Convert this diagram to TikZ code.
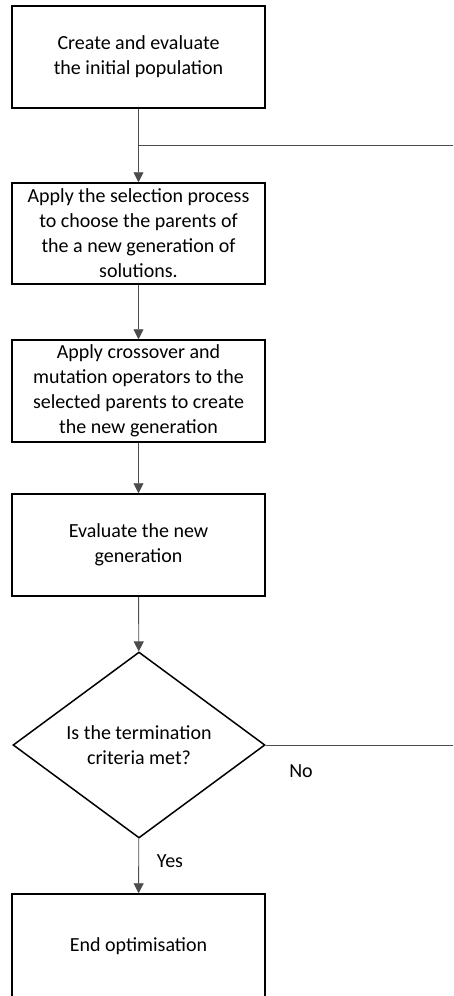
\documentclass[tikz,border=0pt]{standalone}
\usepackage{fontspec}
\setmainfont{Carlito}
\usetikzlibrary{arrows.meta,shapes.geometric}

\begin{document}
\begin{tikzpicture}[x=1pt, y=-1pt, font=\fontsize{20}{25}\selectfont,
  stepbox/.style={draw, line width=1.5pt, minimum width=253pt, minimum height=102pt,
    inner sep=0pt, align=center},
  decision/.style={draw, diamond, line width=1.5pt, aspect=1.355, inner sep=0pt,
    minimum width=252pt, minimum height=186pt, align=center},
  flow/.style={line width=0.9pt, draw=black!70},
  arrow/.style={flow, -{Triangle[length=10pt,width=10pt]}}]
\useasboundingbox (0,0) rectangle (453,996);
% process boxes
\node[stepbox] (init) at (138.5,57) {Create and evaluate\\the initial population};
\node[stepbox, minimum height=101pt] (select) at (138.5,233.5) {Apply the selection process\\to choose the parents of\\the a new generation of\\solutions.};
\node[stepbox] (vary) at (138.5,391) {Apply crossover and\\mutation operators to the\\selected parents to create\\the new generation};
\node[stepbox] (eval) at (138.5,545) {Evaluate the new\\generation};
\node[decision] (stop) at (139,745) {Is the termination\\criteria met?};
\node[stepbox, minimum height=104pt] (end) at (138.5,946) {End optimisation};
% loop ends running off to the right
\coordinate (join) at (139,145);
\coordinate (loopin) at (453,145);
\coordinate (loopout) at (453,745);
% connectors
\draw[arrow] (init) -- (select);
\draw[flow] (join) -- (loopin);
\draw[arrow] (select) -- (vary);
\draw[arrow] (vary) -- (eval);
\draw[arrow] (eval) -- (stop);
\draw[flow] (stop.east) -- (loopout);
\draw[arrow] (stop) -- (end);
\node (no) at (301,771) {No};
\node (yes) at (170,861) {Yes};
\end{tikzpicture}
\end{document}
